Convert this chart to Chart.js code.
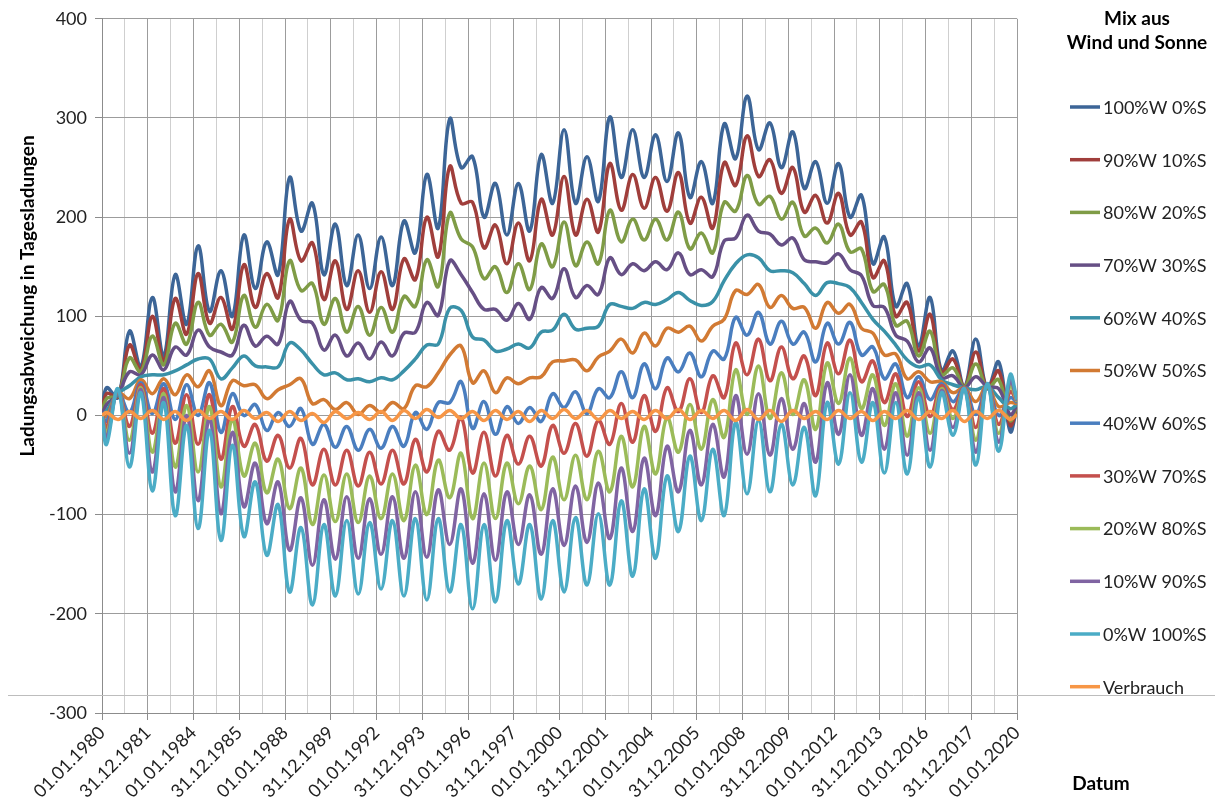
<!DOCTYPE html>
<html>
<head>
<meta charset="utf-8">
<script src="https://cdn.jsdelivr.net/npm/chart.js@4.4.0/dist/chart.umd.min.js"></script>
<style>
  html, body { margin: 0; padding: 0; background: #fff; }
  #wrap { width: 1215px; height: 809px; position: relative; }
</style>
</head>
<body>
<div id="wrap"><canvas id="chart"></canvas></div>
<script>
// Zeitpunkte (Jahr als Dezimalzahl)
const times = [1980,
  1980.2, 1980.7, 1981.2, 1981.7, 1982.2, 1982.7, 1983.2, 1983.7, 1984.2, 1984.7,
  1985.2, 1985.7, 1986.2, 1986.7, 1987.2, 1987.7, 1988.2, 1988.7, 1989.2, 1989.7,
  1990.2, 1990.7, 1991.2, 1991.7, 1992.2, 1992.7, 1993.2, 1993.7, 1994.2, 1994.7,
  1995.2, 1995.7, 1996.2, 1996.7, 1997.2, 1997.7, 1998.2, 1998.7, 1999.2, 1999.7,
  2000.2, 2000.7, 2001.2, 2001.7, 2002.2, 2002.7, 2003.2, 2003.7, 2004.2, 2004.7,
  2005.2, 2005.7, 2006.2, 2006.7, 2007.2, 2007.7, 2008.2, 2008.7, 2009.2, 2009.7,
  2010.2, 2010.7, 2011.2, 2011.7, 2012.2, 2012.7, 2013.2, 2013.7, 2014.2, 2014.7,
  2015.2, 2015.7, 2016.2, 2016.7, 2017.2, 2017.7, 2018.2, 2018.7, 2019.2, 2019.7,
  2020];

const xLabels = ['01.01.1980', '31.12.1981', '01.01.1984', '31.12.1985', '01.01.1988', '31.12.1989',
  '01.01.1992', '31.12.1993', '01.01.1996', '31.12.1997', '01.01.2000', '31.12.2001', '01.01.2004',
  '31.12.2005', '01.01.2008', '31.12.2009', '01.01.2012', '31.12.2013', '01.01.2016', '31.12.2017',
  '01.01.2020'];

const seriesNames = ['100%W 0%S', '90%W 10%S', '80%W 20%S', '70%W 30%S', '60%W 40%S', '50%W 50%S',
  '40%W 60%S', '30%W 70%S', '20%W 80%S', '10%W 90%S', '0%W 100%S', 'Verbrauch'];

const colors = ['#3c6597', '#a03e3b', '#7f9c46', '#664f85', '#3a91a8', '#d27a33',
  '#4a7ebf', '#c4504d', '#9bbb59', '#8064a2', '#4bacc6', '#f79646'];

// Ladungsabweichung je Mix
const w100 = [0,
  28, 18, 85, 49, 119, 60, 142, 92, 171, 105,
  146, 100, 182, 128, 175, 142, 240, 186, 214, 142,
  193, 131, 182, 128, 180, 131, 196, 164, 243, 189,
  299, 250, 261, 200, 234, 182, 234, 186, 263, 214,
  288, 214, 261, 216, 301, 240, 288, 240, 283, 236,
  285, 220, 256, 214, 294, 259, 322, 268, 295, 250,
  286, 229, 256, 214, 254, 200, 222, 153, 180, 110,
  133, 70, 119, 45, 65, 29, 77, 27, 54, -16,
  8];
const w90 = [0,
  22, 19, 71, 46, 100, 55, 118, 82, 143, 93,
  119, 87, 152, 109, 143, 119, 198, 156, 174, 117,
  156, 107, 146, 104, 145, 107, 158, 137, 200, 160,
  251, 214, 215, 169, 192, 153, 194, 156, 218, 182,
  241, 182, 218, 185, 254, 207, 243, 209, 240, 206,
  245, 194, 220, 189, 255, 232, 282, 241, 258, 224,
  250, 205, 222, 194, 224, 182, 195, 139, 156, 100,
  114, 65, 102, 43, 57, 29, 64, 28, 45, -10,
  9];
const w80 = [0,
  17, 20, 58, 44, 80, 51, 93, 72, 114, 81,
  92, 74, 121, 89, 112, 96, 156, 126, 133, 92,
  118, 84, 110, 81, 109, 84, 120, 110, 157, 130,
  204, 178, 170, 138, 150, 124, 153, 127, 173, 150,
  195, 151, 175, 153, 207, 175, 198, 177, 198, 177,
  205, 168, 184, 164, 215, 206, 242, 213, 221, 198,
  215, 181, 189, 174, 193, 165, 168, 125, 132, 91,
  95, 60, 85, 41, 48, 29, 52, 28, 36, -5,
  10];
const w70 = [0,
  11, 21, 44, 41, 61, 46, 69, 61, 86, 69,
  64, 61, 91, 70, 80, 72, 115, 96, 93, 66,
  81, 60, 73, 57, 74, 60, 83, 84, 114, 101,
  156, 142, 124, 107, 107, 96, 113, 97, 129, 118,
  148, 119, 131, 122, 159, 142, 153, 146, 155, 147,
  164, 142, 147, 140, 176, 179, 202, 186, 183, 172,
  179, 157, 155, 154, 163, 147, 141, 111, 109, 81,
  75, 54, 68, 38, 40, 28, 39, 29, 27, 1,
  10];
const w60 = [0,
  5, 22, 30, 39, 41, 41, 45, 51, 57, 57,
  37, 48, 60, 50, 49, 49, 73, 66, 52, 41,
  43, 36, 37, 34, 38, 36, 45, 57, 71, 72,
  108, 106, 79, 76, 65, 67, 72, 68, 84, 86,
  102, 87, 88, 90, 112, 110, 108, 114, 112, 117,
  124, 116, 111, 115, 136, 153, 162, 159, 146, 146,
  144, 133, 121, 134, 133, 129, 114, 97, 85, 71,
  56, 49, 51, 36, 31, 28, 26, 29, 18, 7,
  11];
const w50 = [0,
  -1, 23, 17, 36, 22, 37, 21, 41, 29, 45,
  10, 35, 30, 31, 17, 26, 31, 37, 12, 16,
  6, 13, 1, 10, 3, 13, 7, 30, 29, 43,
  61, 70, 33, 45, 23, 38, 32, 38, 39, 54,
  55, 56, 45, 59, 65, 77, 63, 83, 70, 88,
  84, 90, 75, 90, 97, 126, 122, 132, 109, 121,
  108, 109, 88, 114, 103, 112, 88, 83, 61, 62,
  37, 44, 34, 34, 23, 28, 14, 30, 9, 13,
  12];
const w40 = [0,
  -6, 23, 3, 33, 2, 32, -4, 31, 0, 33,
  -17, 22, 0, 11, -15, 3, -11, 7, -29, -9,
  -32, -11, -35, -14, -33, -11, -31, 3, -14, 13,
  13, 34, -13, 14, -19, 9, -8, 8, -6, 22,
  8, 24, 2, 27, 18, 44, 18, 52, 27, 58,
  44, 63, 39, 65, 57, 99, 81, 104, 72, 95,
  72, 84, 54, 93, 72, 94, 61, 69, 37, 52,
  18, 39, 16, 32, 14, 28, 1, 30, 0, 18,
  13];
const w30 = [0,
  -12, 24, -11, 31, -18, 27, -28, 21, -29, 21,
  -44, 9, -31, -9, -46, -20, -53, -23, -70, -34,
  -70, -35, -71, -37, -69, -35, -69, -24, -57, -16,
  -35, -2, -58, -17, -61, -20, -49, -21, -51, -10,
  -38, -8, -41, -5, -29, 12, -27, 20, -16, 28,
  4, 37, 3, 40, 18, 73, 41, 77, 35, 69,
  37, 60, 20, 73, 42, 76, 34, 55, 13, 42,
  -1, 34, -1, 30, 6, 28, -12, 31, -9, 24,
  14];
const w20 = [0,
  -18, 25, -25, 28, -37, 22, -52, 10, -57, 9,
  -72, -4, -61, -28, -78, -44, -94, -53, -110, -60,
  -107, -59, -108, -61, -104, -59, -106, -50, -100, -45,
  -83, -38, -104, -48, -104, -48, -89, -51, -95, -42,
  -85, -40, -85, -36, -77, -21, -72, -11, -59, -2,
  -37, 11, -34, 16, -22, 46, 1, 50, -3, 43,
  1, 36, -14, 53, 12, 58, 7, 41, -10, 32,
  -21, 28, -18, 27, -3, 27, -25, 31, -18, 30,
  14];
const w10 = [0,
  -23, 26, -38, 26, -57, 18, -77, 0, -86, -3,
  -99, -17, -92, -48, -109, -67, -136, -83, -151, -85,
  -145, -82, -144, -84, -140, -82, -144, -77, -143, -75,
  -130, -74, -149, -79, -146, -77, -130, -80, -140, -74,
  -131, -71, -128, -68, -124, -53, -117, -43, -101, -31,
  -77, -15, -70, -9, -62, 20, -39, 22, -40, 17,
  -34, 12, -47, 33, -19, 41, -20, 27, -34, 23,
  -40, 23, -35, 25, -12, 27, -37, 32, -27, 35,
  15];
const w0 = [0,
  -29, 27, -52, 23, -76, 13, -101, -10, -114, -15,
  -126, -30, -122, -67, -141, -90, -178, -113, -191, -110,
  -182, -106, -180, -108, -175, -106, -182, -104, -186, -104,
  -178, -110, -195, -110, -188, -106, -170, -110, -185, -106,
  -178, -103, -171, -99, -171, -86, -162, -74, -144, -61,
  -117, -41, -106, -34, -101, -7, -79, -5, -77, -9,
  -70, -12, -81, 13, -49, 23, -47, 13, -58, 13,
  -59, 18, -52, 23, -20, 27, -50, 32, -36, 41,
  16];
const verbrauch = [0,
  3, -4, 4, -3, 5, -4, 4, -5, 5, -3,
  4, -4, 5, -3, 3, -6, 4, -5, 2, -7,
  4, -3, 3, -4, 4, -5, 5, -3, 6, -2,
  5, -3, 4, -5, 5, -4, 4, -6, 5, -3,
  6, -3, 5, -4, 5, -3, 4, -4, 5, -3,
  6, -4, 5, -3, 5, -5, 6, -4, 5, -6,
  5, -3, 4, -4, 5, -3, 4, -5, 4, -3,
  5, -4, 4, -3, 5, -6, 4, -3, 5, -4,
  1];

const allSeries = [w100, w90, w80, w70, w60, w50, w40, w30, w20, w10, w0, verbrauch];

const FONT = 'Lato, "Open Sans", sans-serif';

const datasets = allSeries.map((vals, i) => ({
  label: seriesNames[i],
  data: vals.map((v, j) => ({ x: times[j], y: v })),
  borderColor: colors[i],
  backgroundColor: colors[i],
  borderWidth: 3.5,
  pointRadius: 0,
  tension: 0.4,
  fill: false,
  order: allSeries.length - i   // spätere Serien oben, wie in Excel
}));

// Legende, Achsentitel und die graue Linie unten
const extras = {
  id: 'extras',
  beforeDatasetsDraw(chart) {
    const c = chart.ctx;
    c.save();
    c.strokeStyle = '#bdbdbd';
    c.lineWidth = 1;
    c.beginPath();
    c.moveTo(8, 695.5);
    c.lineTo(1215, 695.5);
    c.stroke();
    c.restore();
  },
  afterDraw(chart) {
    const c = chart.ctx;
    c.save();
    c.fillStyle = '#000';

    // y-Achsentitel
    c.font = 'bold 19px ' + FONT;
    c.textAlign = 'center';
    c.textBaseline = 'middle';
    c.translate(28, 296);
    c.rotate(-Math.PI / 2);
    c.fillText('Ladungsabweichung in Tagesladungen', 0, 0);
    c.setTransform(1, 0, 0, 1, 0, 0);

    // x-Achsentitel
    c.font = 'bold 19px ' + FONT;
    c.fillText('Datum', 1101, 784);

    // Legendentitel
    c.fillText('Mix aus', 1137, 19);
    c.fillText('Wind und Sonne', 1137, 43);

    // Legendeneinträge
    c.font = '18px ' + FONT;
    c.textAlign = 'left';
    seriesNames.forEach((name, i) => {
      const y = 107 + i * 52.7;
      c.strokeStyle = colors[i];
      c.lineWidth = 3.5;
      c.beginPath();
      c.moveTo(1070, y);
      c.lineTo(1100, y);
      c.stroke();
      c.fillStyle = '#222';
      c.fillText(name, 1103, y + 1);
    });
    c.restore();
  }
};

new Chart(document.getElementById('chart'), {
  type: 'line',
  data: { datasets },
  plugins: [extras],
  options: {
    responsive: true,
    maintainAspectRatio: false,
    animation: false,
    layout: { padding: { top: 18, right: 198, left: 0, bottom: 0 } },
    plugins: {
      legend: { display: false },
      tooltip: { enabled: false }
    },
    scales: {
      x: {
        type: 'linear',
        min: 1980,
        max: 2020,
        afterFit: s => { s.height = 96; },
        ticks: {
          stepSize: 1,
          autoSkip: false,
          minRotation: 45,
          maxRotation: 45,
          padding: 2,
          color: '#222',
          font: { family: FONT, size: 18 },
          callback: v => ((v - 1980) % 2 === 0 ? xLabels[(v - 1980) / 2] : '')
        },
        grid: {
          color: ctx => (ctx.tick && (ctx.tick.value - 1980) % 2 === 0 ? '#9c9c9c' : '#cfcfcf'),
          tickColor: ctx => (ctx.tick && (ctx.tick.value - 1980) % 2 === 0 ? '#8c8c8c' : 'rgba(0,0,0,0)'),
          tickLength: 7,
          lineWidth: 1
        },
        border: { color: '#8c8c8c' }
      },
      y: {
        min: -300,
        max: 400,
        afterFit: s => { s.width = 102; },
        ticks: {
          stepSize: 100,
          padding: 8,
          color: '#222',
          font: { family: FONT, size: 18 }
        },
        grid: { color: '#9c9c9c', tickColor: '#8c8c8c', tickLength: 7, lineWidth: 1 },
        border: { color: '#8c8c8c' }
      }
    }
  }
});
</script>
</body>
</html>
